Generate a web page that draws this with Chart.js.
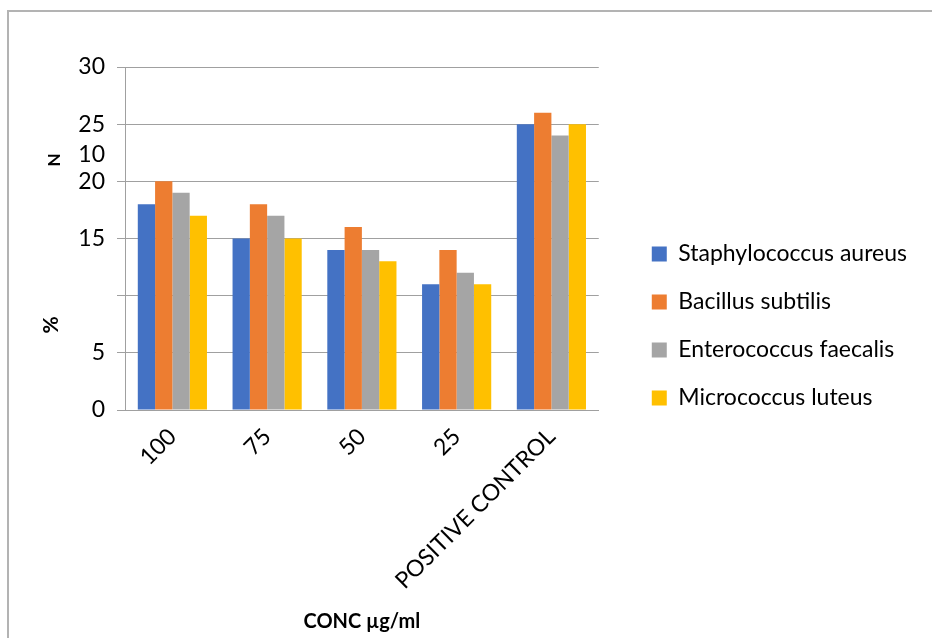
<!DOCTYPE html>
<html>
<head>
<meta charset="utf-8">
<script src="https://cdn.jsdelivr.net/npm/chart.js@4.4.1/dist/chart.umd.min.js"></script>
<style>
  html, body { margin: 0; padding: 0; background: #ffffff; overflow: hidden; }
  #frame {
    position: absolute; left: 7px; top: 10px; width: 980px; height: 680px;
    border-left: 2px solid #b3b3b3; border-top: 2px solid #b3b3b3;
  }
  #wrap { position: absolute; left: 0; top: 0; width: 932px; height: 638px; }
</style>
</head>
<body>
<div id="frame"></div>
<div id="wrap"><canvas id="chart" width="932" height="638"></canvas></div>
<script>
// Zone of inhibition by concentration, four test organisms
const categories = ['100', '75', '50', '25', 'POSITIVE CONTROL'];
const seriesNames = ['Staphylococcus aureus', 'Bacillus subtilis', 'Enterococcus faecalis', 'Micrococcus luteus'];
const staphylococcusAureus = [18, 15, 14, 11, 25];
const bacillusSubtilis     = [20, 18, 16, 14, 26];
const enterococcusFaecalis = [19, 17, 14, 12, 24];
const micrococcusLuteus    = [17, 15, 13, 11, 25];
const seriesColors = ['#4472C4', '#ED7D31', '#A5A5A5', '#FFC000'];
const yTicks = [0, 5, 10, 15, 20, 25, 30];
const yTickLabels = ['0', '5', '10', '15', '20', '25', '30'];
const displacedTick = '10';
const xTitle = 'CONC µg/ml';
const yTitle = '%';
const yNote = 'N';

const FONT = 'Lato';
const TEXT_SIZE = 23;
const GRID = '#a0a0a0';
const CANVAS_W = 932;

const seriesValues = [staphylococcusAureus, bacillusSubtilis, enterococcusFaecalis, micrococcusLuteus];

// Legend geometry: box, gap after box (half the font size), row padding
const LEGEND_BOX = 15;
const LEGEND_PAD = 25;
const LEGEND_LEFT = 626;
const measureCtx = document.createElement('canvas').getContext('2d');
measureCtx.font = `${TEXT_SIZE}px ${FONT}`;
const longestName = Math.max(...seriesNames.map(n => measureCtx.measureText(n).width));
const legendWidth = Math.ceil(LEGEND_PAD + LEGEND_BOX + TEXT_SIZE / 2 + longestName + 10);
const rightPad = Math.max(0, CANVAS_W - LEGEND_LEFT - legendWidth);

// Draws the rotated axis notes and the tick label that sits off its gridline
const axisNotes = {
  id: 'axisNotes',
  afterDraw(chart) {
    const { ctx } = chart;
    const y = chart.scales.y;
    ctx.save();
    ctx.fillStyle = '#000';
    ctx.font = `${TEXT_SIZE}px ${FONT}`;
    ctx.textAlign = 'right';
    ctx.textBaseline = 'middle';
    ctx.fillText(displacedTick, y.right - 8 - 12, y.getPixelForValue(22.3));

    const rotated = (text, x, yy, font) => {
      ctx.save();
      ctx.translate(x, yy);
      ctx.rotate(-Math.PI / 2);
      ctx.font = font;
      ctx.textAlign = 'center';
      ctx.textBaseline = 'middle';
      ctx.fillText(text, 0, 0);
      ctx.restore();
    };
    rotated(yTitle, 51, 325, `bold 21px ${FONT}`);
    rotated(yNote, 55, 160, `bold 17px ${FONT}`);
    ctx.restore();
  }
};

new Chart(document.getElementById('chart'), {
  type: 'bar',
  data: {
    labels: categories,
    datasets: seriesNames.map((name, i) => ({
      label: name,
      data: seriesValues[i],
      backgroundColor: seriesColors[i],
      borderWidth: 0,
      barPercentage: 1,
      categoryPercentage: 0.73,
      yAxisID: 'y'
    }))
  },
  options: {
    responsive: false,
    animation: false,
    devicePixelRatio: 1,
    layout: { padding: { top: 14, right: rightPad, bottom: 0, left: 0 } },
    plugins: {
      tooltip: { enabled: false },
      legend: {
        position: 'right',
        maxWidth: legendWidth,
        labels: {
          boxWidth: LEGEND_BOX,
          boxHeight: LEGEND_BOX,
          padding: LEGEND_PAD,
          color: '#000',
          font: { family: FONT, size: TEXT_SIZE }
        }
      }
    },
    scales: {
      x: {
        grid: { display: false, drawTicks: false },
        border: { display: true, color: GRID },
        ticks: {
          color: '#000',
          font: { family: FONT, size: TEXT_SIZE },
          minRotation: 45,
          maxRotation: 45,
          autoSkip: false,
          padding: 13
        },
        title: {
          display: true,
          text: xTitle,
          color: '#000',
          font: { family: FONT, size: 20, weight: 'bold' },
          padding: { top: 0, bottom: 4 }
        },
        afterFit(s) { s.height = 228; }
      },
      y: {
        min: 0,
        max: 30,
        afterBuildTicks(s) { s.ticks = yTicks.map(v => ({ value: v })); },
        grid: { color: GRID, tickLength: 8, drawTicks: true },
        border: { display: true, color: GRID },
        ticks: {
          color: '#000',
          font: { family: FONT, size: TEXT_SIZE },
          padding: 12,
          callback(v) {
            const label = yTickLabels[yTicks.indexOf(v)];
            return label === displacedTick ? '' : label;
          }
        },
        afterFit(s) { s.width = 125; s.paddingTop = 67; }
      },
      // empty right-hand axis that keeps the legend clear of the plot
      gap: {
        type: 'linear',
        position: 'right',
        display: true,
        grid: { display: false, drawTicks: false },
        ticks: { display: false },
        border: { display: false },
        afterFit(s) { s.width = LEGEND_LEFT - 598; }
      }
    }
  },
  plugins: [axisNotes]
});
</script>
</body>
</html>
